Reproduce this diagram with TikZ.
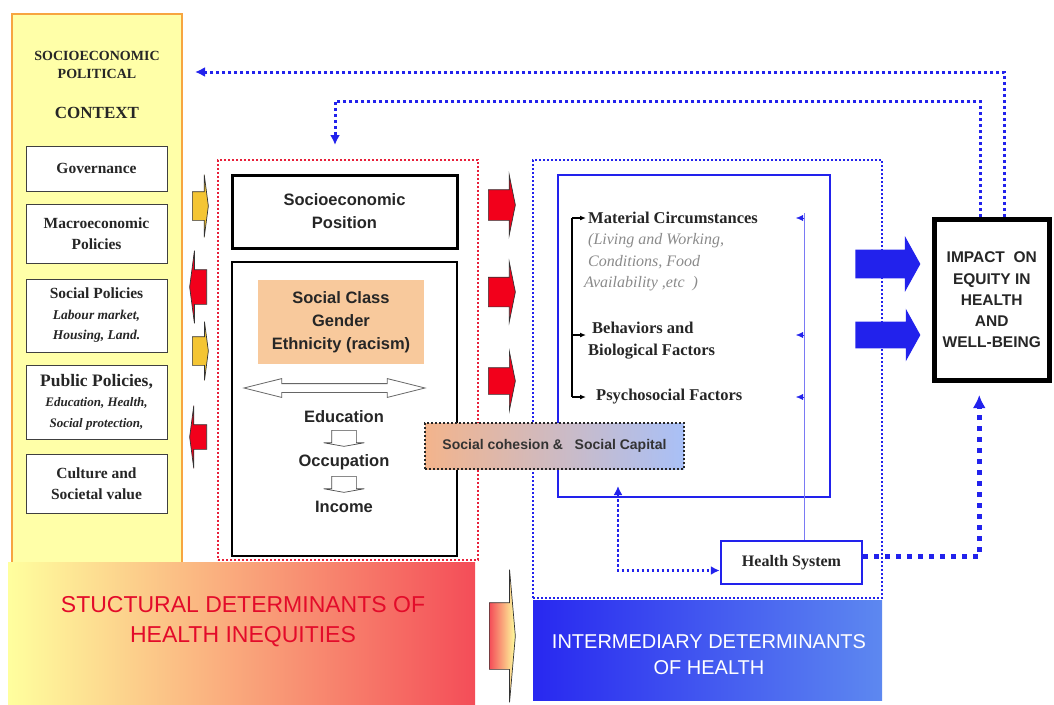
\documentclass[tikz,border=0pt]{standalone}
\usepackage{fontspec}
\setmainfont{Liberation Serif}
\setsansfont{Liberation Sans}
\usetikzlibrary{shapes.arrows,arrows.meta}
\definecolor{ctxyellow}{HTML}{FFFFA8}
\definecolor{ctxorange}{HTML}{F7A540}
\definecolor{sdred}{HTML}{E8203A}
\definecolor{sdtext}{HTML}{E30B2A}
\definecolor{idblue}{HTML}{2222EC}
\definecolor{scgorange}{HTML}{F8C99C}
\definecolor{arrred}{HTML}{F2001B}
\definecolor{arryellow}{HTML}{F4C534}
\definecolor{cohorange}{HTML}{F3B48C}
\definecolor{cohblue}{HTML}{A9C0F7}
\definecolor{baryellow}{HTML}{FFFF9E}
\definecolor{barorange}{HTML}{F8A96A}
\definecolor{barred}{HTML}{F44D58}
\definecolor{barblue}{HTML}{2828F0}
\definecolor{barlight}{HTML}{5D88F0}
\definecolor{txtgray}{HTML}{8A8A8A}

\begin{document}
\begin{tikzpicture}[x=1pt,y=-1pt,
		ctxbox/.style={draw=black!75,fill=white,line width=1pt,minimum width=141pt,align=center,inner sep=1pt,font=\fontsize{15.5}{20.5}\selectfont\bfseries,text=black!85},
		flatarr/.style={single arrow,draw=black!80,line width=0.7pt,inner xsep=0pt,minimum width=0pt,anchor=tail},
		sdot/.style={line width=2pt,dash pattern=on 2pt off 2pt},
		fbdot/.style={idblue,line width=3pt,dash pattern=on 3pt off 3pt},
		sansb/.style={font=\fontsize{#1}{23}\selectfont\sffamily\bfseries,text=black!85}
	]
	\useasboundingbox (0,0) rectangle (1054,704);
	\node[draw=ctxorange,line width=2pt,fill=ctxyellow,minimum width=170pt,minimum height=551pt,inner sep=0pt] (ctx) at (97,289.5) {};
	\node[align=center,font=\fontsize{14}{18}\selectfont\bfseries,text=black!85] (ttl) at (97,65) {SOCIOECONOMIC\\POLITICAL};
	\node[font=\fontsize{17}{20}\selectfont\bfseries,text=black!85] (cxt) at (97,113) {CONTEXT};
	\node[ctxbox,minimum height=45pt] (gov) at (96.5,168.5) {Governance};
	\node[ctxbox,minimum height=59pt] (macro) at (96.5,233.5) {Macroeconomic\\Policies};
	\node[ctxbox,minimum height=73pt] (socpol) at (96.5,315.5) {Social Policies\\{\fontsize{13.5}{16}\selectfont\itshape Labour market,}\\{\fontsize{13.5}{16}\selectfont\itshape Housing, Land.}};
	\node[ctxbox,minimum height=74pt] (pubpol) at (96.5,402) {{\fontsize{17.5}{20}\selectfont Public Policies,}\\{\fontsize{13}{16}\selectfont\itshape Education, Health,}\\{\fontsize{13}{16}\selectfont\itshape Social protection,}};
	\node[ctxbox,minimum height=59pt] (cult) at (96.5,483.5) {Culture and\\Societal value};

	\node[flatarr,fill=arryellow,inner ysep=14pt,single arrow head extend=17pt,minimum height=16pt,single arrow tip angle=165] (ya1) at (192,206) {};
	\node[flatarr,fill=arrred,inner ysep=17pt,single arrow head extend=19pt,minimum height=17pt,single arrow tip angle=165,rotate=180] (ra1) at (207,287) {};
	\node[flatarr,fill=arryellow,inner ysep=14pt,single arrow head extend=15pt,minimum height=16pt,single arrow tip angle=165] (ya2) at (192,351) {};
	\node[flatarr,fill=arrred,inner ysep=12pt,single arrow head extend=19pt,minimum height=17pt,single arrow tip angle=165,rotate=180] (ra2) at (207,437) {};

	\node[draw=sdred,sdot,minimum width=260pt,minimum height=400pt] (struct) at (348,360) {};
	\node[draw,line width=3pt,fill=white,minimum width=225pt,minimum height=73pt,align=center,sansb=16.5] (sep) at (344.5,211.5) {Socioeconomic\\Position};
	\node[draw,line width=2.5pt,fill=white,minimum width=225pt,minimum height=294pt] (strat) at (344.5,409) {};
	\node[fill=scgorange,minimum width=166pt,minimum height=84pt,align=center,sansb=16.5] (scg) at (341,322) {Social Class\\Gender\\Ethnicity (racism)};
	\node[double arrow,draw=black!60,fill=white,line width=0.8pt,inner xsep=0pt,inner ysep=4pt,double arrow head extend=5pt,double arrow tip angle=28,minimum height=181pt] (dbl) at (334.5,388) {};
	\node[sansb=16.5] (edu) at (344,417) {Education};
	\node[sansb=16.5] (occ) at (344,462) {Occupation};
	\node[sansb=16.5] (inc) at (344,507) {Income};
	\node[flatarr,draw=black!70,fill=white,inner ysep=12pt,single arrow head extend=8pt,minimum height=16pt,single arrow tip angle=160,rotate=-90] (eo) at (344,430) {};
	\node[flatarr,draw=black!70,fill=white,inner ysep=12pt,single arrow head extend=8pt,minimum height=16pt,single arrow tip angle=160,rotate=-90] (oi) at (344,476) {};

	\node[flatarr,fill=arrred,inner ysep=15pt,single arrow head extend=15pt,minimum height=27pt,single arrow tip angle=157] (rb1) at (488,205) {};
	\node[flatarr,fill=arrred,inner ysep=14.5pt,single arrow head extend=15pt,minimum height=27pt,single arrow tip angle=157] (rb2) at (488,292) {};
	\node[flatarr,fill=arrred,inner ysep=13pt,single arrow head extend=16pt,minimum height=27pt,single arrow tip angle=157] (rb3) at (488,381) {};

	\node[draw=idblue,sdot,minimum width=349pt,minimum height=438pt] (interm) at (707.5,379) {};
	\node[draw=idblue,line width=2pt,minimum width=272pt,minimum height=322pt] (inner) at (694,336) {};
	\node[anchor=west,font=\fontsize{16.5}{19}\selectfont\bfseries,text=black!85,inner sep=2pt] (matc) at (586,218) {Material Circumstances};
	\node[anchor=west,align=left,font=\fontsize{16}{21.5}\selectfont\itshape,text=txtgray,inner sep=0pt] (matd) at (584,262.5) {\hspace*{4pt}(Living and Working,\\\hspace*{4pt}Conditions, Food\\Availability ,etc\ \ )};
	\node[anchor=west,align=left,font=\fontsize{16.5}{22}\selectfont\bfseries,text=black!85,inner sep=2pt] (beh) at (586,341) {\hspace*{4pt}Behaviors and\\Biological Factors};
	\node[anchor=west,font=\fontsize{16.5}{19}\selectfont\bfseries,text=black!85,inner sep=2pt] (psy) at (594,397) {Psychosocial Factors};
	\coordinate (brx) at (572,0);
	\draw[line width=1.6pt] (matc.west -| brx) -- (psy.west -| brx);
	\draw[line width=1.2pt,-{Latex[length=6pt,width=5pt]}] (matc.west -| brx) -- (matc.west);
	\draw[line width=1.2pt,-{Latex[length=6pt,width=5pt]}] ([yshift=6pt]beh.west -| brx) -- ([yshift=6pt]beh.west);
	\draw[line width=1.2pt,-{Latex[length=6pt,width=5pt]}] (psy.west -| brx) -- ([xshift=-8pt]psy.west);

	\node[draw=idblue,line width=2.5pt,fill=white,minimum width=141pt,minimum height=43pt,font=\fontsize{16}{19}\selectfont\bfseries,text=black!85] (hs) at (791.5,562.5) {Health System};
	\coordinate (hsx) at (804,213);
	\draw[idblue!60,line width=0.8pt] (hs.north -| hsx) -- (hsx);
	\draw[idblue,-{Latex[length=7pt,width=6pt]}] (matc.east -| hsx) -- ++(-8,0);
	\draw[idblue,-{Latex[length=7pt,width=6pt]}] ([yshift=6pt]beh.east -| hsx) -- ++(-8,0);
	\draw[idblue,-{Latex[length=7pt,width=6pt]}] (psy.east -| hsx) -- ++(-8,0);

	\node[draw=black!85,line width=2pt,dash pattern=on 2pt off 2pt,left color=cohorange,right color=cohblue,minimum width=259pt,minimum height=46pt,font=\fontsize{14}{16}\selectfont\sffamily\bfseries,text=black!80] (coh) at (554.5,446) {Social cohesion \&\ \ \ Social Capital};
	\coordinate (cohtip) at (618,486);
	\draw[idblue,line width=2.5pt,dash pattern=on 2.5pt off 2.5pt,{Latex[length=9pt,width=9pt]}-{Latex[length=9pt,width=9pt]}] (cohtip) |- ([yshift=-8pt]hs.west);

	\node[draw,line width=5pt,fill=white,minimum width=114.5pt,minimum height=161pt,align=center,font=\fontsize{15.5}{21.3}\selectfont\sffamily\bfseries,text=black!85] (imp) at (991.75,300) {IMPACT\ \ ON\\EQUITY IN\\HEALTH\\AND\\WELL-BEING};
	\node[flatarr,draw=none,fill=idblue,inner ysep=14pt,single arrow head extend=13.5pt,minimum height=65pt,single arrow tip angle=122] (bb1) at (855,264) {};
	\node[flatarr,draw=none,fill=idblue,inner ysep=13pt,single arrow head extend=13pt,minimum height=65pt,single arrow tip angle=122] (bb2) at (855,335) {};
	\draw[idblue,line width=5pt,dash pattern=on 5pt off 6pt,-{Latex[length=13pt,width=13pt]},shorten >=12pt] ([yshift=6pt]hs.east) -| ([xshift=-12.5pt]imp.south);

	\coordinate (fbleft) at (195,72);
	\coordinate (fbin) at (335,101);
	\coordinate (fbdown) at (335,145);
	\draw[fbdot,-{Latex[length=10pt,width=10pt]}] ([xshift=12.5pt]imp.north) |- (fbleft);
	\draw[fbdot,-{Latex[length=10pt,width=10pt]}] ([xshift=-11.5pt]imp.north) |- (fbin) -- (fbdown);

	\node[left color=baryellow,middle color=barorange,right color=barred,minimum width=467pt,minimum height=142pt,inner sep=0pt] (sdh) at (241.5,633) {};
	\node[align=center,font=\fontsize{23}{30}\selectfont\sffamily,text=sdtext] (sdhtxt) at (243,622) {STUCTURAL DETERMINANTS OF\\HEALTH INEQUITIES};
	\node[flatarr,left color=barred,right color=baryellow,inner ysep=33pt,single arrow head extend=33pt,minimum height=26pt,single arrow tip angle=170] (mid) at (489,636) {};
	\node[left color=barblue,right color=barlight,minimum width=349pt,minimum height=100pt,inner sep=0pt] (idh) at (707.5,650) {};
	\node[align=center,font=\fontsize{20}{26}\selectfont\sffamily,text=white] (idhtxt) at (709,655) {INTERMEDIARY DETERMINANTS\\OF HEALTH};
\end{tikzpicture}
\end{document}
